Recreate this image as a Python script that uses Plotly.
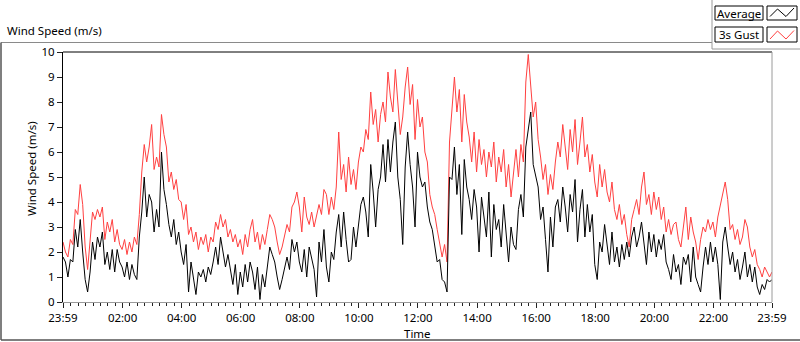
import plotly.graph_objects as go

# ---- data, one sample every 5 minutes from 23:59 to 23:59 ----
gust = [
    2.4, 2.0, 1.8, 2.5, 2.3, 3.7, 3.5, 4.7, 3.9, 2.2, 1.3, 2.3, 3.6, 3.3, 3.7, 3.4, 3.8, 2.5, 3.2, 2.8, 3.3, 2.4, 2.9, 2.3,
    2.1, 2.5, 1.9, 2.4, 2.0, 2.6, 2.3, 3.5, 5.2, 6.3, 5.6, 6.2, 7.1, 5.3, 5.8, 5.4, 7.5, 6.7, 6.2, 4.8, 5.2, 4.5, 4.9, 4.1,
    4.0, 3.3, 3.9, 2.7, 3.0, 2.4, 2.8, 2.1, 2.6, 2.3, 2.7, 2.0, 2.6, 2.4, 3.2, 2.9, 3.5, 3.0, 3.3, 2.6, 2.9, 2.4, 2.7, 2.2,
    2.5, 1.9, 2.7, 2.2, 2.9, 3.3, 2.4, 2.8, 2.1, 2.7, 2.3, 2.9, 3.5, 3.3, 3.0, 2.4, 1.9, 2.2, 2.6, 3.1, 2.8, 3.8, 4.0, 4.4,
    3.8, 2.8, 4.2, 3.4, 3.1, 3.6, 3.0, 3.4, 3.9, 3.5, 4.5, 4.3, 3.5, 4.2, 3.7, 4.6, 6.8, 4.9, 5.5, 4.4, 5.8, 4.7, 5.3, 4.5,
    5.6, 6.2, 6.0, 6.9, 6.5, 8.4, 7.1, 7.7, 6.4, 7.5, 8.0, 7.2, 9.2, 8.2, 7.6, 9.3, 7.8, 6.7, 7.4, 8.6, 9.4, 7.9, 8.7, 6.5,
    8.1, 7.0, 7.4, 6.0, 5.6, 4.3, 3.8, 3.5, 2.9, 2.4, 1.8, 2.3, 1.6, 6.4, 7.7, 9.0, 7.6, 8.5, 6.4, 8.3, 7.2, 6.6, 5.6, 6.8,
    5.2, 6.5, 5.5, 6.1, 5.0, 6.0, 5.4, 6.4, 4.8, 5.8, 5.2, 6.1, 4.6, 5.5, 4.2, 5.1, 6.1, 5.0, 6.3, 5.6, 8.8, 9.9, 8.6, 7.4,
    8.0, 6.5, 5.8, 4.9, 5.5, 4.3, 5.1, 4.5, 5.6, 6.4, 5.8, 7.1, 6.2, 5.3, 6.9, 6.0, 7.3, 5.5, 6.4, 7.4, 5.8, 6.3, 5.2, 5.9,
    4.8, 4.2, 5.5, 4.6, 5.3, 4.4, 4.0, 4.8, 3.7, 3.3, 3.9, 3.1, 3.5, 2.7, 2.2, 3.3, 3.7, 4.1, 3.5, 4.6, 5.2, 3.9, 4.3, 3.5,
    4.4, 3.7, 4.2, 3.3, 3.8, 2.8, 3.3, 2.7, 3.1, 3.2, 2.5, 2.2, 3.0, 3.8, 2.5, 3.4, 2.8, 2.4, 1.7, 2.5, 3.0, 2.8, 3.3, 2.9,
    3.2, 2.6, 3.4, 3.9, 4.4, 4.8, 4.1, 2.9, 3.1, 2.5, 2.9, 2.3, 2.6, 3.3, 3.0, 2.2, 1.8, 2.1, 1.5, 1.3, 1.0, 1.4, 1.2, 1.0,
    1.2,
]
average = [
    1.8, 1.6, 1.0, 1.7, 1.6, 2.9, 2.2, 3.3, 2.0, 0.9, 0.4, 1.2, 2.4, 1.7, 2.6, 2.2, 2.8, 1.5, 2.0, 1.3, 2.1, 1.2, 2.1, 1.6,
    1.4, 1.0, 1.6, 0.9, 1.5, 1.1, 0.9, 2.6, 3.6, 5.0, 3.4, 4.3, 4.0, 2.8, 3.7, 3.0, 6.0, 4.5, 3.9, 3.1, 2.6, 3.3, 2.3, 2.8,
    2.0, 1.5, 2.3, 0.4, 1.6, 0.9, 0.3, 1.2, 1.0, 1.3, 0.8, 1.4, 1.1, 1.6, 2.2, 1.5, 2.6, 2.0, 1.4, 1.9, 1.3, 0.7, 1.5, 0.3,
    1.2, 0.6, 1.5, 0.8, 1.6, 1.2, 0.5, 1.4, 0.1, 1.1, 0.6, 1.4, 2.2, 1.9, 1.6, 1.0, 0.5, 0.9, 1.4, 1.8, 1.3, 2.5, 2.0, 2.4,
    1.6, 1.2, 2.1, 1.0, 2.2, 1.7, 1.3, 0.2, 2.4, 1.6, 2.9, 1.4, 0.8, 2.0, 1.7, 2.8, 3.5, 2.2, 3.6, 2.5, 1.6, 1.7, 3.0, 2.2,
    3.2, 3.9, 4.2, 3.6, 2.6, 5.5, 4.4, 3.0, 4.5, 5.0, 6.3, 4.8, 6.5, 5.2, 6.4, 7.2, 5.0, 4.1, 2.3, 5.4, 6.8, 5.5, 4.6, 3.0,
    6.0, 5.0, 4.6, 4.8, 3.8, 3.2, 2.9, 2.3, 1.6, 1.7, 0.9, 0.8, 0.4, 5.0, 4.9, 6.2, 4.3, 5.5, 2.7, 5.7, 4.6, 4.1, 3.3, 4.5,
    3.8, 2.0, 4.2, 3.4, 2.6, 4.4, 1.8, 3.9, 2.9, 3.3, 2.2, 3.9, 2.6, 1.6, 3.0, 2.3, 2.1, 3.7, 4.3, 3.4, 6.2, 6.9, 7.6, 5.5,
    5.0, 4.6, 3.3, 3.8, 2.5, 1.2, 3.4, 2.2, 3.8, 4.1, 3.2, 4.6, 3.8, 2.8, 4.3, 3.6, 4.9, 2.4, 3.7, 4.5, 2.6, 3.9, 2.8, 3.5,
    1.5, 0.9, 2.4, 2.0, 3.1, 2.4, 1.5, 2.8, 1.6, 2.2, 1.4, 2.3, 1.7, 2.4, 1.8, 2.6, 3.0, 2.2, 2.6, 3.2, 2.4, 1.5, 2.8, 2.0,
    2.7, 1.8, 2.5, 2.1, 2.7, 1.6, 1.3, 0.9, 1.9, 1.2, 1.5, 0.7, 1.8, 1.5, 1.9, 0.8, 2.2, 1.0, 0.7, 0.4, 1.4, 2.2, 1.5, 2.4,
    1.6, 2.2, 1.5, 0.1, 2.4, 3.0, 2.2, 1.5, 2.0, 1.2, 1.7, 0.9, 1.4, 2.0, 1.0, 1.5, 0.8, 1.4, 0.6, 0.3, 0.7, 0.5, 0.9, 0.8,
    0.9,
]
sample_minutes = [-1 + 5 * k for k in range(len(average))]   # minutes after midnight
tick_minutes = [-1, 120, 240, 360, 480, 600, 720, 840, 960, 1080, 1200, 1320, 1439]
tick_labels = ["23:59", "02:00", "04:00", "06:00", "08:00", "10:00", "12:00",
               "14:00", "16:00", "18:00", "20:00", "22:00", "23:59"]
minor_tick_minutes = [m for m in range(15, 1439, 15) if m % 120 != 0]
y_ticks = list(range(0, 11))

# ---- geometry helpers (pixel -> paper) ----
W, H = 800, 342
L, R, T, B = 63, 28, 52, 40
PW, PH = W - L - R, H - T - B
def px(x): return (x - L) / PW
def py(y): return (H - B - y) / PH

FONT = "Noto Sans"
FS = 11.5

fig = go.Figure()
fig.add_trace(go.Scatter(x=sample_minutes, y=gust, mode="lines", name="3s Gust",
                         line=dict(color="#FF4040", width=1), showlegend=False))
fig.add_trace(go.Scatter(x=sample_minutes, y=average, mode="lines", name="Average",
                         line=dict(color="#000000", width=1), showlegend=False))

fig.update_layout(
    width=W, height=H,
    margin=dict(l=L, r=R, t=T, b=B, pad=0),
    paper_bgcolor="white", plot_bgcolor="white",
    font=dict(family=FONT, size=FS, color="black"),
    xaxis=dict(range=[-1, 1439], tickmode="array", tickvals=tick_minutes, ticktext=tick_labels,
               ticks="outside", ticklen=5, tickcolor="#222", showgrid=False, zeroline=False,
               showline=True, linecolor="#9a9a9a", linewidth=1,
               tickfont=dict(size=FS, color="black", family=FONT),
               minor=dict(tickmode="array", tickvals=minor_tick_minutes, ticks="outside", ticklen=3,
                          tickcolor="#222", showgrid=False)),
    yaxis=dict(range=[0, 10], tickmode="array", tickvals=y_ticks, ticks="outside", ticklen=5,
               tickcolor="#222", showgrid=False, zeroline=False, showline=True,
               linecolor="#000", linewidth=1, tickfont=dict(size=FS, color="black", family=FONT)),
)

shapes = []
# top and right plot frame
shapes.append(dict(type="line", xref="paper", yref="paper", x0=0, x1=1, y0=1, y1=1,
                   line=dict(color="#000", width=1)))
shapes.append(dict(type="line", xref="paper", yref="paper", x0=1, x1=1, y0=0, y1=1,
                   line=dict(color="#9a9a9a", width=1)))
# outer frame of the graph
shapes.append(dict(type="line", xref="paper", yref="paper", x0=px(1), x1=px(712), y0=py(42.5), y1=py(42.5),
                   line=dict(color="#8a8a8a", width=1)))
shapes.append(dict(type="line", xref="paper", yref="paper", x0=px(1), x1=px(1), y0=py(42.5), y1=py(340),
                   line=dict(color="#555", width=1.5)))
shapes.append(dict(type="line", xref="paper", yref="paper", x0=px(1), x1=px(800), y0=py(340), y1=py(340),
                   line=dict(color="#555", width=1.5)))
# legend frame
shapes.append(dict(type="line", xref="paper", yref="paper", x0=px(712), x1=px(712), y0=py(0), y1=py(49),
                   line=dict(color="#9a9a9a", width=1)))
shapes.append(dict(type="line", xref="paper", yref="paper", x0=px(712), x1=px(800), y0=py(49), y1=py(49),
                   line=dict(color="#9a9a9a", width=1)))
# legend label boxes and icon boxes
for (y0, y1) in [(6, 20), (27, 42)]:
    shapes.append(dict(type="rect", xref="paper", yref="paper", x0=px(715), x1=px(763), y0=py(y1), y1=py(y0),
                       line=dict(color="#000", width=1), fillcolor="white"))
    shapes.append(dict(type="rect", xref="paper", yref="paper", x0=px(767), x1=px(797), y0=py(y1), y1=py(y0),
                       line=dict(color="#000", width=1), fillcolor="white"))
def zig(pts):
    return "M " + " L ".join(f"{px(a)},{py(b)}" for a, b in pts)
shapes.append(dict(type="path", xref="paper", yref="paper",
                   path=zig([(770, 16.5), (777.5, 9), (786, 16.5), (794, 8)]),
                   line=dict(color="#000", width=1)))
shapes.append(dict(type="path", xref="paper", yref="paper",
                   path=zig([(770, 39), (777.5, 31), (786, 39), (794, 30.5)]),
                   line=dict(color="#FF4040", width=1)))
fig.update_layout(shapes=shapes)

ann = []
ann.append(dict(text="Wind Speed (m/s)", xref="paper", yref="paper", x=px(5), y=py(31),
                xanchor="left", yanchor="middle", showarrow=False, font=dict(size=FS)))
ann.append(dict(text="Wind Speed (m/s)", xref="paper", yref="paper", x=px(31), y=py(169),
                xanchor="center", yanchor="middle", textangle=-90, showarrow=False, font=dict(size=FS)))
ann.append(dict(text="Time", xref="paper", yref="paper", x=px(417), y=py(333),
                xanchor="center", yanchor="middle", showarrow=False, font=dict(size=FS)))
ann.append(dict(text="Average", xref="paper", yref="paper", x=px(739), y=py(13),
                xanchor="center", yanchor="middle", showarrow=False, font=dict(size=FS)))
ann.append(dict(text="3s Gust", xref="paper", yref="paper", x=px(739), y=py(34.5),
                xanchor="center", yanchor="middle", showarrow=False, font=dict(size=FS)))
fig.update_layout(annotations=ann)

fig.write_html("out.html", config={"displayModeBar": False},
               post_script="document.body.style.margin='0';document.body.style.overflow='hidden';")
